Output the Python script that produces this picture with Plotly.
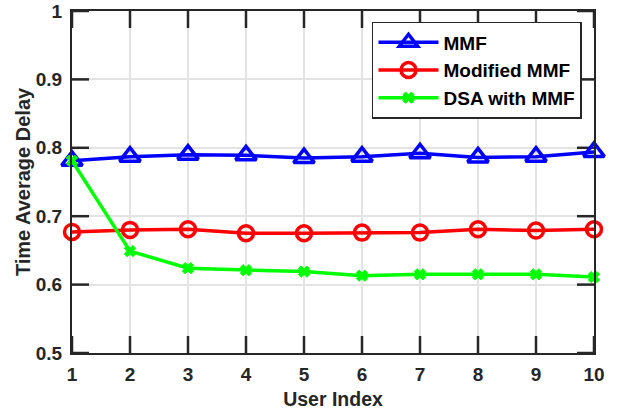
import plotly.graph_objects as go

users = [1, 2, 3, 4, 5, 6, 7, 8, 9, 10]
mmf = [0.781, 0.787, 0.790, 0.789, 0.785, 0.787, 0.792, 0.786, 0.787, 0.794]
modified_mmf = [0.677, 0.680, 0.681, 0.675, 0.675, 0.676, 0.676, 0.681, 0.679, 0.681]
dsa_mmf = [0.781, 0.649, 0.624, 0.621, 0.619, 0.613, 0.615, 0.615, 0.615, 0.611]
x_ticks = [1, 2, 3, 4, 5, 6, 7, 8, 9, 10]
y_ticks = [0.5, 0.6, 0.7, 0.8, 0.9, 1.0]
y_tick_labels = ["0.5", "0.6", "0.7", "0.8", "0.9", "1"]

font_family = "Liberation Sans, Arial, sans-serif"
axis_color = "#262626"
tick_len = 17

fig = go.Figure()
fig.add_trace(go.Scatter(
    x=users, y=mmf, name="<b>MMF</b>", mode="lines+markers",
    line=dict(color="#0000FF", width=3.5),
    marker=dict(symbol="triangle-up-open", size=18, color="#0000FF",
                line=dict(width=3.5, color="#0000FF")),
    cliponaxis=False,
))
fig.add_trace(go.Scatter(
    x=users, y=modified_mmf, name="<b>Modified MMF</b>", mode="lines+markers",
    line=dict(color="#FF0000", width=3.5),
    marker=dict(symbol="circle-open", size=15, color="#FF0000",
                line=dict(width=3.5, color="#FF0000")),
    cliponaxis=False,
))
fig.add_trace(go.Scatter(
    x=users, y=dsa_mmf, name="<b>DSA with MMF</b>", mode="lines+markers",
    line=dict(color="#00FF00", width=3.5),
    marker=dict(symbol="x", size=10, color="#00FF00",
                line=dict(width=1, color="#00FF00")),
    cliponaxis=False,
))

# inward tick marks on all four sides (MATLAB box style)
x_lo, x_hi = x_ticks[0], x_ticks[-1]
y_lo, y_hi = y_ticks[0], y_ticks[-1]
for xv in x_ticks:
    for anchor, sign in ((y_lo, 1), (y_hi, -1)):
        fig.add_shape(type="line", xref="x", yref="y", ysizemode="pixel",
                      yanchor=anchor, x0=xv, x1=xv, y0=0, y1=sign * tick_len,
                      line=dict(color=axis_color, width=2.5), layer="between")
for yv in y_ticks:
    for anchor, sign in ((x_lo, 1), (x_hi, -1)):
        fig.add_shape(type="line", xref="x", yref="y", xsizemode="pixel",
                      xanchor=anchor, y0=yv, y1=yv, x0=0, x1=sign * tick_len,
                      line=dict(color=axis_color, width=2.5), layer="between")

axis_common = dict(
    showline=True, linecolor=axis_color, linewidth=2, mirror=True,
    ticks="", automargin=False,
    showgrid=True, gridcolor="#e3e3e3", gridwidth=2, zeroline=False,
    tickfont=dict(family=font_family, size=19, color=axis_color, weight="bold"),
)

fig.update_layout(
    width=618, height=416,
    margin=dict(l=72, r=24, t=11, b=63),
    paper_bgcolor="white", plot_bgcolor="white",
    font=dict(family=font_family, color=axis_color),
    xaxis=dict(
        range=[x_lo, x_hi], tickvals=x_ticks, ticklabelstandoff=3,
        title=dict(text="<b>User Index</b>", font=dict(size=19.5, family=font_family, color=axis_color), standoff=9),
        **axis_common,
    ),
    yaxis=dict(
        range=[y_lo, y_hi], tickvals=y_ticks, ticktext=y_tick_labels, ticklabelstandoff=4,
        title=dict(text="<b>Time Average Delay</b>", font=dict(size=20, family=font_family, color=axis_color), standoff=0),
        **axis_common,
    ),
    legend=dict(
        x=0.977, y=0.968, xanchor="right", yanchor="top",
        bgcolor="white", bordercolor=axis_color, borderwidth=1.5,
        font=dict(family=font_family, size=19, color="black"),
        tracegroupgap=0, itemwidth=60,
    ),
    showlegend=True,
)

fig.write_html("out.html")
